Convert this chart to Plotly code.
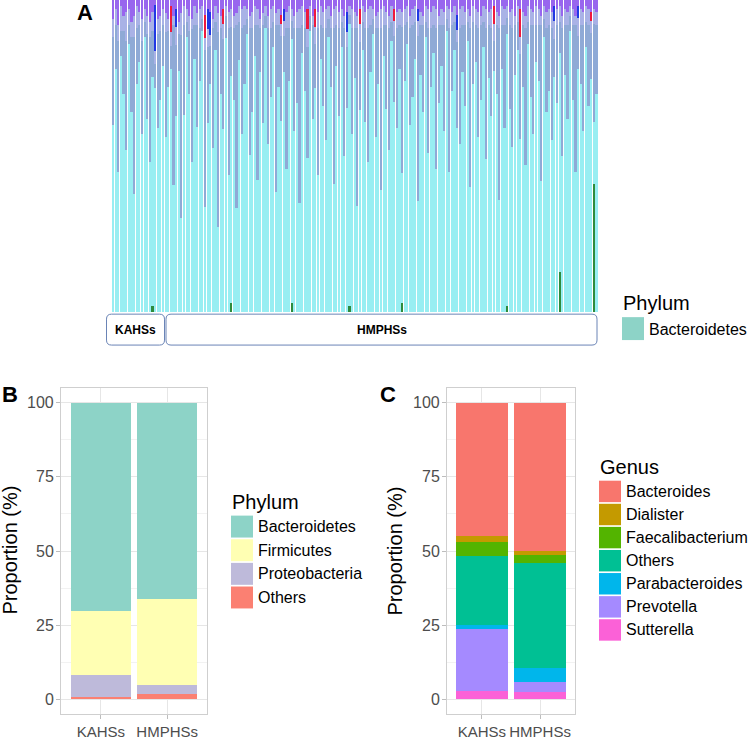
import plotly.graph_objects as go

W, H = 750, 740
def fx(x): return x / W
def fy(y): return 1 - y / H

# ---------------- Panel A data (per-sample relative abundance, %) ----------------
n_kahs = 20
n_hmph = 165
n_all = n_kahs + n_hmph

cyan = [60, 78, 45, 82, 70, 52, 86, 64, 38, 73, 80, 57, 88, 62, 48, 75, 84, 59, 68, 79,
        55, 72, 85, 40, 66, 78, 30, 62, 88, 70, 47, 81, 58, 74, 90,
        36, 65, 79, 52, 84, 27, 70, 61, 86, 44, 75, 68, 33, 80, 57,
        73, 89, 50, 64, 82, 42, 77, 60, 91, 54, 69, 85, 38, 72, 63,
        80, 46, 74, 87, 58, 67, 35, 83, 71, 53, 90, 62, 76, 44, 81,
        66, 55, 88, 72, 41, 79, 63, 85, 50, 70, 92, 57, 75, 34, 68,
        84, 61, 48, 77, 89, 56, 73, 39, 82, 65, 52, 87, 70, 59, 78,
        43, 74, 86, 60, 69, 81, 37, 76, 64, 88, 51, 72, 83, 46, 67,
        79, 58, 90, 45, 71, 84, 62, 54, 77, 66, 87, 40, 73, 80, 56,
        68, 85, 49, 75, 63, 82, 70, 36, 78, 59, 89, 65, 53, 76, 84,
        61, 72, 47, 86, 69, 57, 80, 74, 42, 88, 64, 71, 55, 79, 67,
        70, 50, 76, 62, 90, 68, 45, 81, 73, 58, 85, 66, 77, 20, 70]

steel = [28, 14, 42, 8, 20, 35, 6, 24, 50, 18, 12, 30, 5, 27, 40, 15, 9, 30, 22, 13,
         33, 18, 8, 50, 24, 12, 58, 28, 5, 20, 42, 11, 32, 17, 4,
         54, 26, 13, 38, 9, 62, 21, 30, 7, 47, 16, 23, 58, 12, 34,
         19, 5, 40, 27, 10, 49, 14, 31, 4, 37, 22, 8, 53, 20, 28,
         12, 45, 17, 6, 33, 24, 56, 9, 20, 38, 5, 30, 15, 47, 11,
         25, 36, 6, 19, 50, 13, 28, 8, 41, 21, 3, 34, 16, 57, 23,
         9, 30, 43, 15, 5, 35, 18, 52, 10, 27, 39, 6, 22, 32, 14,
         48, 18, 7, 31, 23, 12, 55, 16, 28, 5, 40, 19, 9, 45, 25,
         13, 34, 4, 46, 21, 9, 29, 37, 15, 26, 6, 51, 20, 12, 35,
         24, 8, 42, 17, 28, 10, 22, 55, 14, 33, 5, 27, 38, 16, 9,
         30, 20, 44, 7, 23, 35, 12, 18, 50, 6, 27, 21, 36, 13, 25,
         10, 41, 16, 30, 5, 24, 47, 11, 19, 34, 8, 26, 15, 32, 22]

lavender = [6, 5, 5, 8, 5, 9, 5, 5, 7, 7, 4, 7, 4, 6, 5, 6, 5, 5, 5, 5,
            6, 4, 5, 3, 6, 4, 7, 6, 4, 5, 3, 6, 4, 6, 4,
            4, 6, 4, 3, 5, 6, 4, 5, 3, 5, 6, 4, 4, 5, 6,
            6, 3, 4, 5, 6, 5, 3, 4, 3, 4, 6, 5, 4, 5, 4,
            5, 5, 7, 4, 4, 5, 6, 6, 5, 6, 3, 3, 6, 5, 6,
            5, 6, 4, 4, 6, 6, 5, 4, 4, 5, 3, 6, 5, 4, 6,
            5, 5, 6, 6, 3, 4, 5, 6, 6, 4, 4, 5, 5, 5, 5,
            5, 5, 5, 4, 5, 5, 5, 4, 3, 5, 6, 5, 6, 6, 3,
            5, 4, 4, 6, 4, 5, 4, 6, 6, 4, 4, 4, 5, 5, 5,
            3, 5, 6, 4, 6, 6, 4, 4, 6, 5, 4, 4, 6, 3, 5,
            6, 4, 4, 5, 5, 4, 6, 5, 3, 4, 5, 5, 5, 6, 5,
            5, 4, 5, 4, 3, 5, 3, 6, 5, 4, 5, 5, 4, 5, 4]

purple = [6, 3, 8, 2, 5, 4, 3, 7, 5, 2, 4, 6, 3, 5, 7, 4, 2, 6, 5, 3,
          4, 6, 2, 5, 3, 7, 4, 2, 3, 5, 6, 2, 4, 3, 2,
          5, 3, 4, 6, 2, 4, 5, 3, 2, 4, 3, 5, 4, 2, 3,
          2, 3, 5, 4, 2, 3, 6, 4, 2, 5, 3, 2, 4, 3, 5,
          3, 4, 2, 3, 5, 4, 3, 2, 4, 3, 2, 5, 3, 4, 2,
          4, 3, 2, 5, 3, 2, 4, 3, 5, 4, 2, 3, 4, 5, 3,
          2, 4, 3, 2, 3, 5, 4, 3, 2, 4, 5, 2, 3, 4, 3,
          4, 3, 2, 5, 3, 2, 3, 4, 5, 2, 3, 4, 2, 3, 5,
          3, 4, 2, 3, 4, 2, 5, 3, 2, 4, 3, 5, 2, 3, 4,
          5, 2, 3, 4, 3, 2, 4, 5, 2, 3, 2, 4, 3, 5, 2,
          3, 4, 5, 2, 3, 4, 2, 3, 5, 2, 4, 3, 4, 2, 3,
          2, 5, 3, 4, 2, 3, 5, 2, 3, 4, 2, 3, 4, 3, 4]

blue_idx = [16, 24, 36, 37, 65, 89, 116, 131, 168, 177]
blue_val = [17, 6, 7, 8, 4, 7, 4, 5, 5, 4]
red_idx = [22, 35, 42, 64, 74, 77, 94, 107, 145, 155, 182]
red_val = [9, 8, 5, 3, 7, 6, 5, 4, 6, 10, 3]
green_idx = [15, 45, 68, 90, 110, 150, 170, 183]
green_val = [2, 3, 3, 2, 3, 2, 13, 42]

group_names = ["KAHSs", "HMPHSs"]

# ---------------- Panel B data ----------------
groups = ["KAHSs", "HMPHSs"]
phyla = ["Bacteroidetes", "Firmicutes", "Proteobacteria", "Others"]
phylum_colors = ["#8DD3C7", "#FFFFB3", "#BEBADA", "#FB8072"]
phylum_vals = {
    "Bacteroidetes": [70.4, 66.3],
    "Firmicutes": [21.4, 28.8],
    "Proteobacteria": [7.3, 3.2],
    "Others": [0.9, 1.7],
}

# ---------------- Panel C data ----------------
genera = ["Bacteroides", "Dialister", "Faecalibacterium", "Others",
          "Parabacteroides", "Prevotella", "Sutterella"]
genus_colors = ["#F8766D", "#C49A00", "#53B400", "#00C094",
                "#00B6EB", "#A58AFF", "#FB61D7"]
genus_vals = {
    "Bacteroides": [44.8, 49.9],
    "Dialister": [2.0, 1.4],
    "Faecalibacterium": [4.9, 2.9],
    "Others": [23.2, 35.3],
    "Parabacteroides": [1.3, 4.7],
    "Prevotella": [21.0, 3.3],
    "Sutterella": [2.8, 2.5],
}

y_ticks = [0, 25, 50, 75, 100]

# ---------------- build panel A arrays ----------------
def sparse(idx, val):
    arr = [0] * n_all
    for i, v in zip(idx, val):
        arr[i] = v
    return arr

blue = sparse(blue_idx, blue_val)
red = sparse(red_idx, red_val)
green = sparse(green_idx, green_val)

xs = list(range(n_all))
fig = go.Figure()

segA = [("green", green, "#2E8B3C"), ("cyan", cyan, "#98EEF2"),
        ("steel", steel, "#8FAAD6"), ("lavender", lavender, "#A9B2E6"),
        ("red", red, "#EE1A3E"), ("blue", blue, "#2038E4"),
        ("purple", purple, "#9866EE")]
for name, vals, col in segA:
    fig.add_trace(go.Bar(x=xs, y=vals, marker=dict(color=col, line=dict(width=0)),
                         width=0.64, xaxis="x", yaxis="y", showlegend=False,
                         name=name))

for ph, col in zip(reversed(phyla), reversed(phylum_colors)):
    fig.add_trace(go.Bar(x=groups, y=phylum_vals[ph], marker=dict(color=col, line=dict(width=0)),
                         width=0.9, xaxis="x2", yaxis="y2", showlegend=False, name=ph))

for g, col in zip(reversed(genera), reversed(genus_colors)):
    fig.add_trace(go.Bar(x=groups, y=genus_vals[g], marker=dict(color=col, line=dict(width=0)),
                         width=0.9, xaxis="x3", yaxis="y3", showlegend=False, name=g))

FONT = "Liberation Sans, Arial, sans-serif"
grid_major = "#E6E6E6"
grid_minor = "#F2F2F2"
border = "#CFCFCF"
tick_col = "#4D4D4D"

def cat_x(domain, anchor):
    return dict(domain=domain, anchor=anchor, type="category", range=[-0.6, 1.6],
                showline=True, mirror=True, linecolor=border, linewidth=1,
                ticks="outside", ticklen=4, tickcolor="#BDBDBD",
                showgrid=True, gridcolor=grid_major, gridwidth=1,
                tickfont=dict(family=FONT, size=15, color=tick_col), fixedrange=True)

def pct_y(domain, anchor):
    return dict(domain=domain, anchor=anchor, range=[-5, 105],
                tickmode="array", tickvals=y_ticks, showticklabels=False,
                showline=True, mirror=True, linecolor=border, linewidth=1,
                ticks="outside", ticklen=4, tickcolor="#BDBDBD",
                showgrid=True, gridcolor=grid_major, gridwidth=1, zeroline=False,
                minor=dict(tickmode="array", tickvals=[12.5, 37.5, 62.5, 87.5],
                           showgrid=True, gridcolor=grid_minor, gridwidth=0.6, ticks=""),
                fixedrange=True)

fig.update_layout(
    width=W, height=H, margin=dict(l=0, r=0, t=0, b=0),
    paper_bgcolor="white", plot_bgcolor="white",
    barmode="stack", barnorm="percent", showlegend=False,
    font=dict(family=FONT, size=16),
    xaxis=dict(domain=[fx(112), fx(598)], anchor="y", range=[-0.5, n_all - 0.5],
               visible=False, fixedrange=True),
    yaxis=dict(domain=[fy(313), fy(0)], anchor="x", range=[0, 100],
               visible=False, fixedrange=True),
    xaxis2=cat_x([fx(61), fx(207)], "y2"),
    yaxis2=pct_y([fy(716), fy(389)], "x2"),
    xaxis3=cat_x([fx(447), fx(575)], "y3"),
    yaxis3=pct_y([fy(716), fy(389)], "x3"),
)

shapes = []
annotations = []

def rounded_rect(x0, y0, x1, y1, r=5):
    rx, ry = r / W, r / H
    X0, X1 = fx(x0), fx(x1)
    Y0, Y1 = fy(y0), fy(y1)  # Y0 top (bigger), Y1 bottom
    p = (f"M {X0+rx},{Y0} L {X1-rx},{Y0} Q {X1},{Y0} {X1},{Y0-ry} "
         f"L {X1},{Y1+ry} Q {X1},{Y1} {X1-rx},{Y1} "
         f"L {X0+rx},{Y1} Q {X0},{Y1} {X0},{Y1+ry} "
         f"L {X0},{Y0-ry} Q {X0},{Y0} {X0+rx},{Y0} Z")
    return dict(type="path", path=p, xref="paper", yref="paper",
                line=dict(color="#6A84B6", width=1), fillcolor="white", layer="above")

# group boxes for panel A
boxes = [(106.5, 164.5), (166, 597)]
for (bx0, bx1), gname in zip(boxes, group_names):
    shapes.append(rounded_rect(bx0, 315, bx1, 346))
    annotations.append(dict(x=fx((bx0 + bx1) / 2), y=fy(331), xref="paper", yref="paper",
                            text=f"<b>{gname}</b>", showarrow=False,
                            font=dict(family=FONT, size=12, color="black"),
                            xanchor="center", yanchor="middle"))

def label(x, y, text, size, bold=False, color="black", xanchor="left", angle=0):
    t = f"<b>{text}</b>" if bold else text
    annotations.append(dict(x=fx(x), y=fy(y), xref="paper", yref="paper", text=t,
                            showarrow=False, textangle=angle,
                            font=dict(family=FONT, size=size, color=color),
                            xanchor=xanchor, yanchor="middle"))

def swatch(x0, y0, x1, y1, color):
    shapes.append(dict(type="rect", xref="paper", yref="paper",
                       x0=fx(x0), x1=fx(x1), y0=fy(y1), y1=fy(y0),
                       fillcolor=color, line=dict(width=0)))

# y tick labels (as text next to the axes)
for yref, xr in (("y2", 56), ("y3", 442)):
    for v in y_ticks:
        annotations.append(dict(x=fx(xr), y=v, xref="paper", yref=yref, text=str(v),
                                showarrow=False, xanchor="right", yanchor="middle",
                                font=dict(family=FONT, size=16, color=tick_col)))

# panel letters
label(85, 13, "A", 22, bold=True, xanchor="center")
label(10, 396, "B", 22, bold=True, xanchor="center")
label(388, 396, "C", 22, bold=True, xanchor="center")

# y titles
label(10, 552, "Proportion (%)", 20, xanchor="center", angle=-90)
label(395, 552, "Proportion (%)", 20, xanchor="center", angle=-90)

# legend A
label(621, 304, "Phylum", 20)
swatch(622, 318, 644, 341, phylum_colors[0])
label(647, 330, phyla[0], 16)

# legend B
label(230, 503, "Phylum", 20)
for i, (ph, col) in enumerate(zip(phyla, phylum_colors)):
    top = 517 + i * 23.7
    swatch(231, top, 253, top + 22, col)
    label(256, top + 11, ph, 16)

# legend C
label(598, 468, "Genus", 20)
for i, (g, col) in enumerate(zip(genera, genus_colors)):
    top = 482 + i * 23.15
    swatch(599, top, 621, top + 21.5, col)
    label(624, top + 10.75, g, 16)

fig.update_layout(shapes=shapes, annotations=annotations)
fig.write_html("out.html", config={"displayModeBar": False},
               post_script="document.body.style.margin='0px';document.body.style.padding='0px';")
